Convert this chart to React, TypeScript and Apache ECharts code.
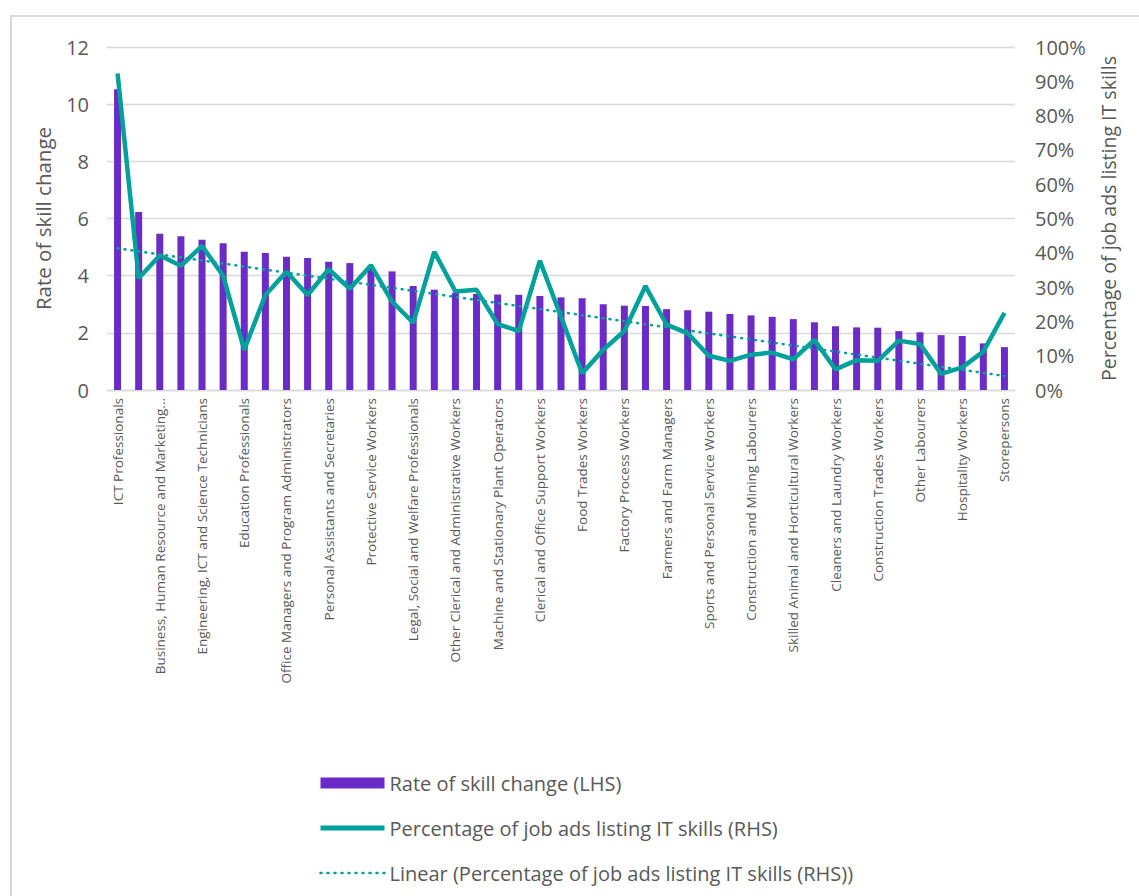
import React, { useEffect, useRef } from "react";
import * as echarts from "echarts";

const categories: string[] = [
  "ICT Professionals",
  "Design, Engineering, Science and Transport Professionals",
  "Business, Human Resource and Marketing Professionals",
  "Specialist Managers",
  "Engineering, ICT and Science Technicians",
  "Arts and Media Professionals",
  "Education Professionals",
  "Chief Executives, General Managers and Legislators",
  "Office Managers and Program Administrators",
  "Health Professionals",
  "Personal Assistants and Secretaries",
  "Numerical Clerks",
  "Protective Service Workers",
  "Sales Representatives and Agents",
  "Legal, Social and Welfare Professionals",
  "Inquiry Clerks and Receptionists",
  "Other Clerical and Administrative Workers",
  "General Clerical Workers",
  "Machine and Stationary Plant Operators",
  "Hospitality, Retail and Service Managers",
  "Clerical and Office Support Workers",
  "Electrotechnology and Telecommunications Trades Workers",
  "Food Trades Workers",
  "Other Technicians and Trades Workers",
  "Factory Process Workers",
  "Sales Support Workers",
  "Farmers and Farm Managers",
  "Health and Welfare Support Workers",
  "Sports and Personal Service Workers",
  "Mobile Plant Operators",
  "Construction and Mining Labourers",
  "Automotive and Engineering Trades Workers",
  "Skilled Animal and Horticultural Workers",
  "Sales Assistants and Salespersons",
  "Cleaners and Laundry Workers",
  "Carers and Aides",
  "Construction Trades Workers",
  "Road and Rail Drivers",
  "Other Labourers",
  "Farm, Forestry and Garden Workers",
  "Hospitality Workers",
  "Food Preparation Assistants",
  "Storepersons",
];

// Rate of skill change (LHS)
const skillChange: number[] = [
  10.52, 6.23, 5.47, 5.38, 5.26, 5.13, 4.84, 4.79, 4.66, 4.62, 4.49, 4.44, 4.3,
  4.15, 3.64, 3.51, 3.4, 3.36, 3.34, 3.33, 3.29, 3.24, 3.21, 3.0, 2.95, 2.94,
  2.83, 2.79, 2.74, 2.66, 2.61, 2.56, 2.48, 2.37, 2.23, 2.19, 2.18, 2.06, 2.02,
  1.92, 1.89, 1.63, 1.5,
];

// Percentage of job ads listing IT skills (RHS), in %
const itSkillsPct: number[] = [
  92.3, 32.6, 39.2, 36.2, 42.0, 33.3, 11.7, 27.7, 34.5, 27.7, 35.2, 29.5, 36.4,
  25.8, 19.6, 40.3, 28.7, 29.2, 19.2, 17.2, 37.7, 21.4, 4.9, 11.7, 17.2, 30.3,
  19.1, 16.5, 10.0, 8.5, 10.3, 10.9, 8.9, 14.6, 6.0, 8.7, 8.5, 14.4, 13.4, 4.7,
  6.6, 11.2, 22.5,
];

const leftTicks = { min: 0, max: 12, interval: 2 };
const rightTicks = { min: 0, max: 100, interval: 10 };

const seriesNames = [
  "Rate of skill change (LHS)",
  "Percentage of job ads listing IT skills (RHS)",
  "Linear (Percentage of job ads listing IT skills (RHS))",
];

// Excel-style linear trendline (least squares over category position 1..n)
function linearTrend(values: number[]): number[] {
  const n = values.length;
  let sx = 0, sy = 0, sxx = 0, sxy = 0;
  values.forEach((y, i) => {
    const x = i + 1;
    sx += x; sy += y; sxx += x * x; sxy += x * y;
  });
  const slope = (n * sxy - sx * sy) / (n * sxx - sx * sx);
  const icpt = (sy - slope * sx) / n;
  return values.map((_, i) => +(icpt + slope * (i + 1)).toFixed(2));
}

const PURPLE = "#6A2BC6";
const TEAL = "#00A19A";
const TEXT = "#595959";
const GRID = "#D9D9D9";
const FONT = "Open Sans";
const HIDE = { opacity: 0, color: "rgba(0,0,0,0)", borderWidth: 0 };

export default function App() {
  const ref = useRef<HTMLDivElement>(null);

  useEffect(() => {
    document.body.style.margin = "0";
    const chart = echarts.init(ref.current!, null, { renderer: "svg" });
    const trend = linearTrend(itSkillsPct);
    chart.setOption({
      animation: false,
      backgroundColor: "#ffffff",
      textStyle: { fontFamily: FONT, color: TEXT },
      graphic: [
        {
          type: "rect",
          shape: { x: 11, y: 16, width: 1400, height: 1200 },
          style: { fill: "none", stroke: GRID, lineWidth: 2 },
          silent: true,
          z: -10,
        },
      ],
      grid: { left: 107, right: 124, top: 47, bottom: 506, containLabel: false },
      legend: {
        orient: "vertical",
        left: 313,
        top: 765,
        itemWidth: 64,
        itemHeight: 11,
        itemGap: 19,
        textStyle: { fontFamily: FONT, fontSize: 20, color: TEXT, lineHeight: 26 },
        data: [
          { name: seriesNames[0], icon: "rect" },
          { name: seriesNames[1], itemStyle: HIDE, lineStyle: { color: TEAL, width: 5 } },
          {
            name: seriesNames[2],
            itemStyle: HIDE,
            lineStyle: { color: TEAL, width: 2.5, type: [1, 6], cap: "round" },
          },
        ],
      },
      xAxis: {
        type: "category",
        data: categories,
        axisLine: { show: true, lineStyle: { color: GRID, width: 1.3 } },
        axisTick: { show: false },
        axisLabel: {
          interval: 1,
          rotate: 90,
          margin: 8,
          color: TEXT,
          fontFamily: FONT,
          fontSize: 13.5,
          formatter: (v: string) => (v.length > 45 ? v.slice(0, 38) + "..." : v),
        },
      },
      yAxis: [
        {
          type: "value",
          ...leftTicks,
          name: "Rate of skill change",
          nameLocation: "middle",
          nameGap: 54,
          nameTextStyle: { fontFamily: FONT, fontSize: 20.5, color: TEXT },
          axisLine: { show: false },
          axisTick: { show: false },
          axisLabel: { color: TEXT, fontFamily: FONT, fontSize: 20, margin: 18 },
          splitLine: { show: true, lineStyle: { color: GRID, width: 1.3 } },
        },
        {
          type: "value",
          position: "right",
          ...rightTicks,
          name: "Percentage of job ads listing IT skills",
          nameLocation: "middle",
          nameGap: 83,
          nameTextStyle: { fontFamily: FONT, fontSize: 19.5, color: TEXT },
          axisLine: { show: false },
          axisTick: { show: false },
          axisLabel: {
            color: TEXT,
            fontFamily: FONT,
            fontSize: 20,
            margin: 20,
            formatter: "{value}%",
          },
          splitLine: { show: false },
        },
      ],
      series: [
        {
          name: seriesNames[0],
          type: "bar",
          yAxisIndex: 0,
          data: skillChange,
          barWidth: 7,
          itemStyle: { color: PURPLE },
          z: 1,
        },
        {
          name: seriesNames[1],
          type: "line",
          yAxisIndex: 1,
          data: itSkillsPct,
          symbol: "none",
          lineStyle: { color: TEAL, width: 4.5 },
          itemStyle: { color: TEAL },
          z: 3,
        },
        {
          name: seriesNames[2],
          type: "line",
          yAxisIndex: 1,
          data: trend,
          symbol: "none",
          lineStyle: { color: TEAL, width: 2.5, type: [1, 6], cap: "round" },
          itemStyle: { color: TEAL },
          z: 2,
        },
      ],
    });
    return () => chart.dispose();
  }, []);

  return (
    <div
      ref={ref}
      style={{ position: "absolute", left: 0, top: 0, width: 1139, height: 896 }}
    />
  );
}
